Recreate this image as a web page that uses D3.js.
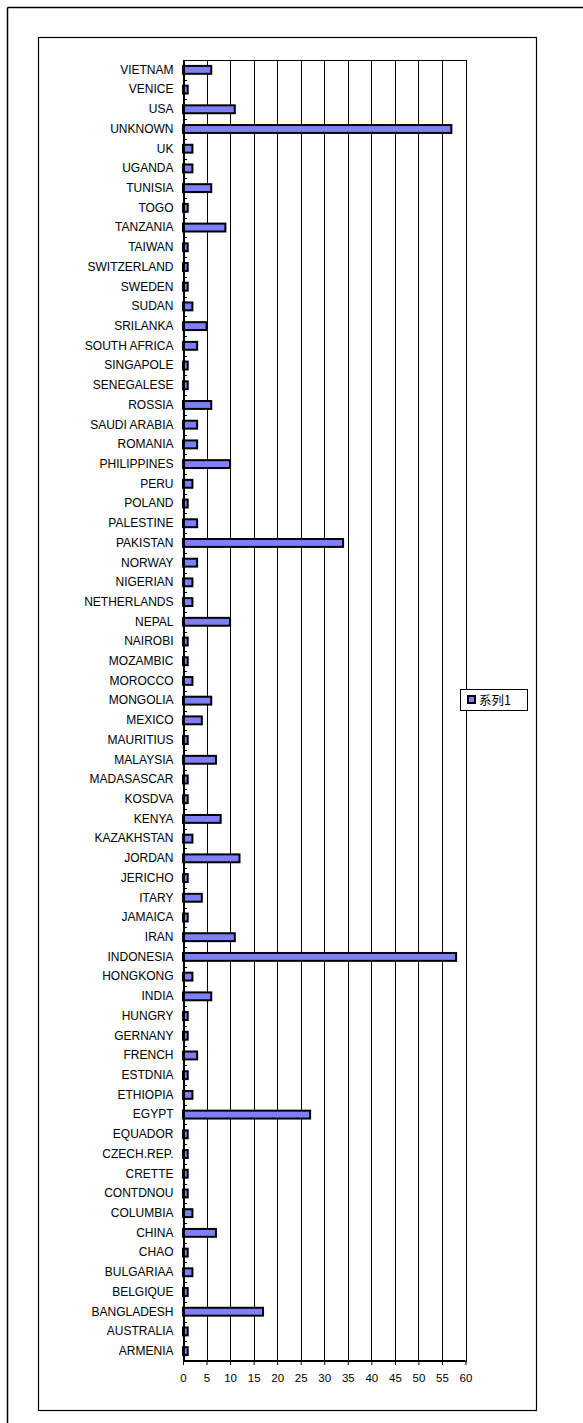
<!DOCTYPE html>
<html>
<head>
<meta charset="utf-8">
<script src="https://d3js.org/d3.v7.min.js"></script>
<style>
  html, body { margin: 0; padding: 0; background: #fff; }
  svg { display: block; }
  text { font-family: "Liberation Sans", Arial, sans-serif; fill: #000; }
</style>
</head>
<body>
<svg id="chart" width="583" height="1423"></svg>
<script>
// Categories, top to bottom
const countries = [
  "VIETNAM","VENICE","USA","UNKNOWN","UK","UGANDA","TUNISIA","TOGO","TANZANIA","TAIWAN",
  "SWITZERLAND","SWEDEN","SUDAN","SRILANKA","SOUTH AFRICA","SINGAPOLE","SENEGALESE","ROSSIA",
  "SAUDI ARABIA","ROMANIA","PHILIPPINES","PERU","POLAND","PALESTINE","PAKISTAN","NORWAY",
  "NIGERIAN","NETHERLANDS","NEPAL","NAIROBI","MOZAMBIC","MOROCCO","MONGOLIA","MEXICO",
  "MAURITIUS","MALAYSIA","MADASASCAR","KOSDVA","KENYA","KAZAKHSTAN","JORDAN","JERICHO",
  "ITARY","JAMAICA","IRAN","INDONESIA","HONGKONG","INDIA","HUNGRY","GERNANY","FRENCH",
  "ESTDNIA","ETHIOPIA","EGYPT","EQUADOR","CZECH.REP.","CRETTE","CONTDNOU","COLUMBIA",
  "CHINA","CHAO","BULGARIAA","BELGIQUE","BANGLADESH","AUSTRALIA","ARMENIA"
];
// 系列1 values, same order
const series1 = [
  6,1,11,57,2,2,6,1,9,1,
  1,1,2,5,3,1,1,6,
  3,3,10,2,1,3,34,3,
  2,2,10,1,1,2,6,4,
  1,7,1,1,8,2,12,1,
  4,1,11,58,2,6,1,1,3,
  1,2,27,1,1,1,1,2,
  7,1,2,1,17,1,1
];
const xTicks = [0,5,10,15,20,25,30,35,40,45,50,55,60];
const seriesName = "系列1";

const svg = d3.select("#chart");

// Frames
svg.append("line").attr("x1", 7.5).attr("y1", 7.5).attr("x2", 583).attr("y2", 7.5)
  .attr("stroke", "#000").attr("stroke-width", 1.5);
svg.append("line").attr("x1", 7.5).attr("y1", 7.5).attr("x2", 7.5).attr("y2", 1423)
  .attr("stroke", "#000").attr("stroke-width", 1.5);
svg.append("rect").attr("x", 38.5).attr("y", 37.5).attr("width", 498).attr("height", 1373)
  .attr("fill", "none").attr("stroke", "#000").attr("stroke-width", 1.2);

// Plot area
const plot = { left: 183, right: 465.5, top: 60, bottom: 1361 };

const x = d3.scaleLinear().domain([0, 60]).range([plot.left, plot.right]);
const y = d3.scaleBand().domain(countries).range([plot.top, plot.bottom])
  .paddingInner(0.6).paddingOuter(0.3);
const step = y.step();

const g = svg.append("g");

// Vertical gridlines
g.append("g").selectAll("line").data(xTicks.filter(d => d > 0)).join("line")
  .attr("x1", d => Math.round(x(d)) + 0.5).attr("x2", d => Math.round(x(d)) + 0.5)
  .attr("y1", plot.top).attr("y2", plot.bottom)
  .attr("stroke", "#000").attr("stroke-width", 1);

// Plot border
g.append("rect")
  .attr("x", plot.left + 0.5).attr("y", plot.top + 0.5)
  .attr("width", Math.round(plot.right) - plot.left).attr("height", plot.bottom - plot.top)
  .attr("fill", "none").attr("stroke", "#000").attr("stroke-width", 1);

// Bars
g.append("g").selectAll("rect").data(countries).join("rect")
  .attr("x", x(0))
  .attr("y", (d) => y(d))
  .attr("width", (d, i) => x(series1[i]) - x(0))
  .attr("height", y.bandwidth())
  .attr("fill", "#7f7ff8")
  .attr("stroke", "#000")
  .attr("stroke-width", 2);

// Category axis (left)
const yAxis = d3.axisLeft(y).tickSize(0).tickPadding(10);
const ya = g.append("g").attr("transform", `translate(${plot.left + 0.5},0)`).call(yAxis);
ya.select(".domain").attr("stroke", "#000").attr("stroke-width", 2);
ya.selectAll("text").style("font-size", "12px").style("font-family", "'Liberation Sans', Arial, sans-serif");

// Ticks between categories
const bounds = d3.range(countries.length + 1).map(i => plot.top + i * step);
g.append("g").selectAll("line").data(bounds).join("line")
  .attr("x1", plot.left).attr("x2", plot.left + 4)
  .attr("y1", d => Math.round(d) + 0.5).attr("y2", d => Math.round(d) + 0.5)
  .attr("stroke", "#000").attr("stroke-width", 1);

// Value axis (bottom)
const xAxis = d3.axisBottom(x).tickValues(xTicks).tickSize(4).tickPadding(9);
const xa = g.append("g").attr("transform", `translate(0,${plot.bottom})`).call(xAxis);
xa.select(".domain").attr("stroke", "#000").attr("stroke-width", 2).attr("d", `M${plot.left},0H${plot.right}`);
xa.selectAll("line").attr("stroke", "#000");
xa.selectAll("text").style("font-size", "11.5px").style("font-family", "'Liberation Sans', Arial, sans-serif");

// Legend
const lg = svg.append("g").attr("transform", "translate(460,689)");
lg.append("rect").attr("x", 0.5).attr("y", 0.5).attr("width", 67).attr("height", 21)
  .attr("fill", "#fff").attr("stroke", "#000").attr("stroke-width", 1);
lg.append("rect").attr("x", 8).attr("y", 7).attr("width", 7).attr("height", 7)
  .attr("fill", "#7f7ff8").attr("stroke", "#000").attr("stroke-width", 2);
lg.append("text").attr("x", 19).attr("y", 16)
  .style("font-family", "'Noto Sans CJK SC', 'Liberation Sans', sans-serif")
  .style("font-size", "12.5px")
  .text(seriesName);
</script>
</body>
</html>
